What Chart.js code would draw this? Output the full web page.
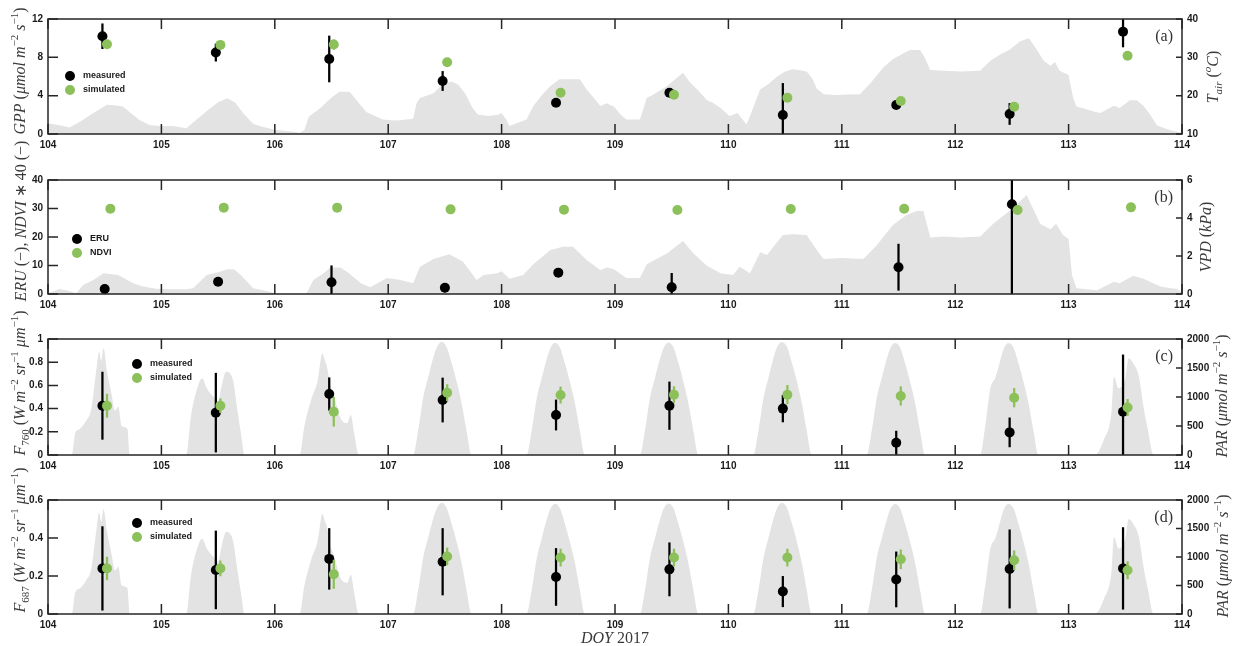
<!DOCTYPE html>
<html lang="en">
<head>
<meta charset="UTF-8">
<title>GPP, ERU, F760 and F687 - DOY 2017</title>
<script src="https://cdn.jsdelivr.net/npm/chart.js"></script>
<style>
  html, body { margin: 0; padding: 0; background: #fff; }
  .wrap { position: relative; width: 1240px; height: 646px; }
  .wrap canvas { position: absolute; left: 0; top: 0; }
</style>
</head>
<body>
<div class="wrap">
  <canvas id="panelA" width="1240" height="646"></canvas>
  <canvas id="panelB" width="1240" height="646"></canvas>
  <canvas id="panelC" width="1240" height="646"></canvas>
  <canvas id="panelD" width="1240" height="646"></canvas>
</div>
<script>
// ---- ticks ----
const dayTicks = [104, 105, 106, 107, 108, 109, 110, 111, 112, 113, 114];
const gppTicks = [0, 4, 8, 12];
const tairTicks = [10, 20, 30, 40];
const eruTicks = [0, 10, 20, 30, 40];
const vpdTicks = [0, 2, 4, 6];
const f760Ticks = [0, 0.2, 0.4, 0.6, 0.8, 1];
const f687Ticks = [0, 0.2, 0.4, 0.6];
const parTicks = [0, 500, 1000, 1500, 2000];

// ---- sampling days ----
const measDoy = [104.48, 105.48, 106.48, 107.48, 108.48, 109.48, 110.48, 111.48, 112.48, 113.48];
const simDoy = [104.52, 105.52, 106.52, 107.52, 108.52, 109.52, 110.52, 111.52, 112.52, 113.52];
const eruDoy = [104.5, 105.5, 106.5, 107.5, 108.5, 109.5, 110.5, 111.5, 112.5, 113.5];
const ndviDoy = [104.55, 105.55, 106.55, 107.55, 108.55, 109.55, 110.55, 111.55, 112.55, 113.55];

// ---- (a) GPP ----
const gppMeas = [10.2, 8.5, 7.83, 5.53, 3.27, 4.31, 1.98, 3.03, 2.09, 10.68];
const gppMeasErr = [1.3, 0.9, 2.4, 1.0, 0, 0.3, 3.3, 0, 1.1, 1.6];
const gppSim = [9.36, 9.3, 9.33, 7.48, 4.31, 4.1, 3.79, 3.44, 2.85, 8.17];
const gppSimErr = [0, 0, 0.5, 0, 0, 0, 0, 0, 0, 0];

// ---- (b) ERU and NDVI*40 ----
const eru = [1.75, 4.3, 4.1, 2.2, 7.5, 2.35, null, 9.4, 31.5, null];
const eruErr = [1.5, 0, 5.8, 1.5, 0, 4.9, 0, 8.1, 35, 0];
const ndvi40 = [29.9, 30.3, 30.3, 29.7, 29.6, 29.5, 29.8, 29.9, 29.5, 30.4];
const ndviErr = [0, 0, 0, 0, 0, 0, 0, 0, 0, 0];

// ---- (c) F760 ----
const f760Meas = [0.425, 0.365, 0.526, 0.474, 0.345, 0.425, 0.40, 0.106, 0.195, 0.373];
const f760MeasErr = [0.29, 0.34, 0.14, 0.19, 0.13, 0.205, 0.115, 0.1, 0.125, 0.49];
const f760Sim = [0.425, 0.425, 0.373, 0.537, 0.517, 0.52, 0.52, 0.509, 0.494, 0.41];
const f760SimErr = [0.1, 0.06, 0.125, 0.07, 0.07, 0.07, 0.08, 0.08, 0.08, 0.07];

// ---- (d) F687 ----
const f687Meas = [0.24, 0.232, 0.29, 0.275, 0.195, 0.235, 0.118, 0.182, 0.237, 0.24];
const f687MeasErr = [0.22, 0.205, 0.16, 0.175, 0.15, 0.14, 0.08, 0.145, 0.206, 0.215];
const f687Sim = [0.24, 0.24, 0.209, 0.303, 0.297, 0.297, 0.297, 0.288, 0.283, 0.23];
const f687SimErr = [0.06, 0.04, 0.075, 0.045, 0.045, 0.045, 0.045, 0.05, 0.05, 0.045];

// ---- background: air temperature (a) ----
const tairDoy = [104.00, 104.10, 104.19, 104.30, 104.40, 104.52, 104.62, 104.66, 104.73, 104.81, 104.90, 105.00, 105.10, 105.22,
  105.30, 105.40, 105.50, 105.58, 105.65, 105.72, 105.81, 105.90, 106.00, 106.10, 106.17, 106.22, 106.26, 106.30, 106.40,
  106.50, 106.57, 106.66, 106.73, 106.81, 106.90, 106.95, 107.05, 107.10, 107.22, 107.25, 107.28, 107.40, 107.48, 107.56,
  107.62, 107.68, 107.74, 107.79, 107.88, 107.97, 108.00, 108.04, 108.07, 108.15, 108.22, 108.28, 108.35, 108.43, 108.51,
  108.60, 108.69, 108.75, 108.81, 108.87, 108.93, 108.96, 108.99, 109.05, 109.10, 109.22, 109.28, 109.35, 109.46, 109.52,
  109.60, 109.66, 109.73, 109.81, 109.87, 109.93, 110.01, 110.08, 110.12, 110.16, 110.22, 110.28, 110.35, 110.43, 110.50,
  110.57, 110.63, 110.69, 110.74, 110.78, 110.84, 110.95, 111.05, 111.16, 111.25, 111.37, 111.45, 111.54, 111.60, 111.69,
  111.73, 111.78, 111.90, 112.05, 112.22, 112.31, 112.40, 112.48, 112.57, 112.65, 112.72, 112.78, 112.84, 112.88, 112.92,
  113.00, 113.04, 113.07, 113.15, 113.22, 113.28, 113.40, 113.45, 113.54, 113.60, 113.66, 113.72, 113.78, 113.90, 114.00];
const tairVal = [12.8, 12.3, 11.7, 13.5, 15.5, 17.6, 17.4, 17.2, 15.5, 13.6, 12.3, 12.1, 12.1, 11.5,
  13.5, 16.0, 18.3, 19.3, 18.2, 15.5, 12.6, 11.8, 11.1, 10.8, 10.6, 10.3, 11.0, 14.5, 16.7,
  19.5, 21.0, 21.0, 18.5, 15.7, 14.5, 13.8, 13.5, 13.6, 14.0, 18.0, 19.4, 20.6, 23.0, 23.7,
  22.8, 20.5, 17.0, 15.1, 14.7, 15.0, 15.5, 13.8, 12.1, 13.0, 13.8, 17.3, 20.0, 22.5, 24.3,
  24.3, 24.3, 21.6, 19.5, 17.3, 18.0, 17.5, 17.2, 15.0, 13.8, 13.8, 19.4, 20.5, 22.5, 24.0,
  26.0, 23.5, 21.5, 18.9, 18.0, 16.8, 14.7, 15.5, 14.0, 12.5, 17.0, 21.6, 23.0, 25.0, 26.3,
  26.9, 26.6, 26.3, 24.5, 21.8, 20.4, 20.2, 20.3, 20.4, 23.2, 27.5, 29.5, 31.0, 31.9, 31.9,
  30.0, 26.7, 26.5, 26.3, 26.5, 29.1, 30.8, 32.0, 34.1, 35.0, 32.0, 29.1, 27.8, 28.8, 26.5,
  25.4, 19.4, 17.2, 16.5, 15.9, 15.5, 17.4, 16.8, 18.8, 18.8, 17.4, 15.0, 12.2, 11.0, 10.3];

// ---- background: VPD (b) ----
const vpdDoy = [104.00, 104.05, 104.10, 104.16, 104.25, 104.31, 104.40, 104.49, 104.55, 104.62, 104.68, 104.75, 104.84, 104.95,
  105.10, 105.22, 105.28, 105.40, 105.50, 105.58, 105.64, 105.70, 105.81, 105.93, 106.00, 106.22, 106.28, 106.34, 106.43,
  106.49, 106.58, 106.64, 106.76, 106.84, 106.99, 107.11, 107.22, 107.28, 107.40, 107.54, 107.66, 107.78, 107.84, 107.96,
  108.00, 108.07, 108.19, 108.28, 108.43, 108.54, 108.63, 108.75, 108.87, 108.93, 108.99, 109.10, 109.22, 109.28, 109.46,
  109.60, 109.69, 109.81, 109.93, 110.04, 110.10, 110.19, 110.28, 110.34, 110.48, 110.57, 110.69, 110.78, 110.84, 111.00,
  111.19, 111.31, 111.45, 111.57, 111.66, 111.72, 111.78, 111.90, 112.05, 112.22, 112.34, 112.51, 112.63, 112.75, 112.84,
  112.89, 112.95, 113.00, 113.03, 113.07, 113.25, 113.40, 113.45, 113.57, 113.66, 113.81, 113.95, 114.00];
const vpdVal = [0.04, 0.15, 0.26, 0.20, 0.05, 0.47, 0.74, 1.09, 1.05, 1.00, 0.80, 0.56, 0.40, 0.28,
  0.25, 0.25, 0.30, 1.00, 1.15, 1.30, 1.30, 1.00, 0.30, 0.16, 0.04, 0.04, 0.04, 0.74, 1.09,
  1.39, 1.39, 1.16, 0.56, 0.35, 0.84, 0.74, 0.56, 1.44, 1.84, 2.09, 1.70, 0.74, 1.00, 1.09,
  1.20, 0.80, 1.00, 1.56, 2.32, 2.49, 2.49, 1.79, 1.26, 1.40, 1.30, 0.84, 0.84, 1.56, 2.14,
  2.79, 2.14, 1.49, 1.09, 1.00, 1.44, 1.09, 2.20, 2.05, 3.10, 3.15, 3.10, 2.30, 1.84, 1.90,
  1.84, 2.58, 3.63, 4.16, 4.37, 4.37, 2.97, 3.02, 2.97, 3.02, 3.72, 4.51, 5.21, 3.68, 3.41,
  3.70, 3.10, 2.90, 1.00, 0.30, 0.20, 0.65, 0.56, 0.96, 0.80, 0.39, 0.26, 0.10];

// ---- background: PAR (c, d) ----
const parDoy = [104.00, 104.21, 104.24, 104.28, 104.34, 104.38, 104.43, 104.45, 104.47, 104.49, 104.52, 104.56, 104.59, 104.62,
  104.65, 104.70, 104.72,
  105.22, 105.26, 105.32, 105.36, 105.40, 105.46, 105.50, 105.53, 105.57, 105.63, 105.67, 105.71, 105.73,
  106.22, 106.26, 106.32, 106.38, 106.42, 106.44, 106.46, 106.49, 106.52, 106.58, 106.64, 106.67, 106.70, 106.74,
  107.22, 107.265, 107.31, 107.354, 107.40, 107.43, 107.47, 107.515, 107.56, 107.60, 107.648, 107.69, 107.736,
  108.22, 108.265, 108.31, 108.354, 108.40, 108.43, 108.47, 108.515, 108.56, 108.60, 108.648, 108.69, 108.736,
  109.22, 109.265, 109.31, 109.354, 109.40, 109.43, 109.47, 109.515, 109.56, 109.60, 109.648, 109.69, 109.736,
  110.22, 110.265, 110.31, 110.354, 110.40, 110.43, 110.47, 110.515, 110.56, 110.60, 110.648, 110.69, 110.736,
  111.22, 111.265, 111.31, 111.354, 111.40, 111.43, 111.47, 111.515, 111.56, 111.60, 111.648, 111.69, 111.736,
  112.22, 112.265, 112.31, 112.354, 112.40, 112.43, 112.47, 112.515, 112.56, 112.60, 112.648, 112.69, 112.736,
  113.23, 113.31, 113.38, 113.40, 113.44, 113.50, 113.53, 113.57, 113.62, 113.66, 113.70, 113.75, 114.00];
const parVal = [0, 0, 374, 448, 603, 776, 1523, 1782, 1620, 1839, 1448, 1052, 764, 830,
  500, 450, 0,
  0, 661, 1178, 1322, 1150, 1000, 920, 1180, 1437, 1300, 776, 259, 0,
  0, 489, 948, 1293, 1753, 1640, 1523, 1200, 1035, 632, 550, 690, 374, 0,
  0, 430, 1006, 1350, 1695, 1860, 1953, 1860, 1580, 1293, 890, 430, 0,
  0, 420, 980, 1330, 1670, 1840, 1935, 1850, 1570, 1280, 880, 420, 0,
  0, 430, 1000, 1340, 1680, 1850, 1940, 1860, 1580, 1290, 880, 430, 0,
  0, 420, 990, 1340, 1690, 1860, 1950, 1870, 1590, 1300, 890, 430, 0,
  0, 430, 1000, 1340, 1680, 1850, 1930, 1850, 1570, 1280, 880, 420, 0,
  0, 500, 1150, 1330, 1650, 1840, 1930, 1850, 1570, 1280, 880, 420, 0,
  0, 259, 776, 1351, 1150, 1322, 1667, 1580, 1351, 833, 431, 0, 0];

const BLACK = '#000000';
const GREEN = '#8cc05a';
const GRAY = '#e3e3e3';
const FRAME = '#262626';
const TICK_FONT = { family: '"Liberation Sans", Arial, sans-serif', size: 10, weight: 'bold' };
const SERIF = '"Liberation Serif", "Times New Roman", serif';

function pts(xs, ys) {
  return xs.map((x, i) => ({ x: x, y: ys[i] }));
}
function errBars(xs, ys, es) {
  return xs.map((x, i) => (ys[i] == null || !es[i]) ? null : { x: x, y: [ys[i] - es[i], ys[i] + es[i]] })
    .filter(Boolean);
}
function setTicks(vals) {
  return s => { s.ticks = vals.map(v => ({ value: v })); };
}
const fmt = v => String(Math.round(v * 100) / 100);

// draws a math-like label; kinds: 'i' italic, '^' sup, '_' sub
function drawRich(ctx, segs, cx, cy, vertical) {
  const size = 16;
  const fontFor = k => (k.includes('i') ? 'italic ' : '') +
    ((k.includes('^') || k.includes('_')) ? 11 : size) + 'px ' + SERIF;
  let w = 0;
  const widths = segs.map(([t, k]) => {
    ctx.font = fontFor(k);
    const m = ctx.measureText(t).width;
    w += m;
    return m;
  });
  ctx.save();
  ctx.translate(cx, cy);
  if (vertical) ctx.rotate(-Math.PI / 2);
  ctx.fillStyle = '#3a3a3a';
  ctx.textAlign = 'left';
  ctx.textBaseline = 'alphabetic';
  let x = -w / 2;
  const base = size * 0.35;
  segs.forEach(([t, k], i) => {
    ctx.font = fontFor(k);
    const dy = k.includes('^') ? -size * 0.4 : k.includes('_') ? size * 0.25 : 0;
    ctx.fillText(t, x, base + dy);
    x += widths[i];
  });
  ctx.restore();
}

const deco = {
  id: 'deco',
  afterDraw(chart, args, o) {
    const ctx = chart.ctx;
    const ca = chart.chartArea;
    const sx = chart.scales.x, sy = chart.scales.y, sr = chart.scales.yR;
    ctx.save();
    ctx.strokeStyle = FRAME;
    ctx.lineWidth = 1.5;
    ctx.strokeRect(ca.left, ca.top, ca.width, ca.height);
    ctx.beginPath();
    sx.ticks.forEach(t => {
      const px = sx.getPixelForValue(t.value);
      ctx.moveTo(px, ca.bottom); ctx.lineTo(px, ca.bottom - 10);
      ctx.moveTo(px, ca.top); ctx.lineTo(px, ca.top + 10);
    });
    sy.ticks.forEach(t => {
      const py = sy.getPixelForValue(t.value);
      ctx.moveTo(ca.left, py); ctx.lineTo(ca.left + 10, py);
    });
    sr.ticks.forEach(t => {
      const py = sr.getPixelForValue(t.value);
      ctx.moveTo(ca.right, py); ctx.lineTo(ca.right - 6, py);
    });
    ctx.stroke();

    // legend
    const lg = o.legend;
    [[BLACK, lg.names[0]], [GREEN, lg.names[1]]].forEach(([c, name], i) => {
      const y = lg.y + i * 14;
      ctx.fillStyle = c;
      ctx.beginPath();
      ctx.arc(lg.x, y, 5, 0, Math.PI * 2);
      ctx.fill();
      ctx.fillStyle = '#1a1a1a';
      ctx.font = 'bold 9px "Liberation Sans", Arial, sans-serif';
      ctx.textAlign = 'left';
      ctx.textBaseline = 'middle';
      ctx.fillText(name, lg.x + 13, y);
    });

    // panel letter
    ctx.fillStyle = '#333';
    ctx.font = '16px ' + SERIF;
    ctx.textAlign = 'right';
    ctx.textBaseline = 'middle';
    ctx.fillText(o.label, ca.right - 9, ca.top + 18);
    ctx.restore();

    drawRich(ctx, o.leftTitle, o.leftAt[0], o.leftAt[1], true);
    drawRich(ctx, o.rightTitle, o.rightAt[0], o.rightAt[1], true);
    if (o.xTitle) drawRich(ctx, o.xTitle, o.xAt[0], o.xAt[1], false);
  }
};

function makePanel(p) {
  const datasets = [
    { type: 'line', data: pts(p.envX, p.envY), yAxisID: 'yR', fill: 'start', backgroundColor: GRAY,
      borderWidth: 0, pointRadius: 0, order: 10, cubicInterpolationMode: p.smooth ? 'monotone' : 'default' },
    { type: 'bar', data: errBars(p.measX, p.meas, p.measErr), yAxisID: 'y', backgroundColor: BLACK,
      barThickness: 1.6, grouped: false, borderWidth: 0, order: 6 },
    { type: 'scatter', data: pts(p.measX, p.meas), yAxisID: 'y', pointRadius: 5, pointBorderWidth: 0,
      pointBackgroundColor: BLACK, order: 5 },
    { type: 'bar', data: errBars(p.simX, p.sim, p.simErr), yAxisID: 'y', backgroundColor: GREEN,
      barThickness: 1.6, grouped: false, borderWidth: 0, order: 4 },
    { type: 'scatter', data: pts(p.simX, p.sim), yAxisID: 'y', pointRadius: 5, pointBorderWidth: 0,
      pointBackgroundColor: GREEN, order: 3 }
  ];
  const noGrid = { display: false, drawTicks: false, offset: false };
  new Chart(document.getElementById(p.id), {
    type: 'line',
    data: { datasets: datasets },
    plugins: [deco],
    options: {
      responsive: false,
      animation: false,
      events: [],
      layout: { padding: { left: 0, right: 0, top: p.top, bottom: 646 - p.bottom - 22 } },
      scales: {
        x: {
          type: 'linear', min: dayTicks[0], max: dayTicks[dayTicks.length - 1], offset: false,
          afterBuildTicks: setTicks(dayTicks),
          afterFit: s => { s.height = 22; },
          grid: noGrid, border: { display: false },
          ticks: { font: TICK_FONT, color: '#1a1a1a', padding: 5, maxRotation: 0, autoSkip: false, callback: fmt }
        },
        y: {
          position: 'left', min: p.leftTicks[0], max: p.leftTicks[p.leftTicks.length - 1],
          afterBuildTicks: setTicks(p.leftTicks),
          afterFit: s => { s.width = 48; },
          grid: noGrid, border: { display: false },
          ticks: { font: TICK_FONT, color: '#1a1a1a', padding: 5, callback: fmt }
        },
        yR: {
          position: 'right', min: p.rightTicks[0], max: p.rightTicks[p.rightTicks.length - 1],
          afterBuildTicks: setTicks(p.rightTicks),
          afterFit: s => { s.width = 58; },
          grid: noGrid, border: { display: false },
          ticks: { font: TICK_FONT, color: '#1a1a1a', padding: 5, callback: fmt }
        }
      },
      plugins: {
        legend: { display: false },
        tooltip: { enabled: false },
        deco: p.deco
      }
    }
  });
}

const unitPar = [['PAR', 'i'], [' (', ''], ['\u03bcmol m', 'i'], ['\u22122', '^'], [' s', 'i'], ['\u22121', '^'], [')', '']];

makePanel({
  id: 'panelA', top: 19, bottom: 134,
  envX: tairDoy, envY: tairVal, rightTicks: tairTicks, leftTicks: gppTicks,
  measX: measDoy, meas: gppMeas, measErr: gppMeasErr,
  simX: simDoy, sim: gppSim, simErr: gppSimErr,
  deco: {
    label: '(a)', legend: { x: 70, y: 76, names: ['measured', 'simulated'] },
    leftTitle: [['GPP', 'i'], [' (', ''], ['\u03bcmol m', 'i'], ['\u22122', '^'], [' s', 'i'], ['\u22121', '^'], [')', '']],
    leftAt: [19, 71],
    rightTitle: [['T', 'i'], ['air', '_i'], [' (', ''], ['o', '^i'], ['C', 'i'], [')', '']],
    rightAt: [1212, 77]
  }
});

makePanel({
  id: 'panelB', top: 180, bottom: 294,
  envX: vpdDoy, envY: vpdVal, rightTicks: vpdTicks, leftTicks: eruTicks,
  measX: eruDoy, meas: eru, measErr: eruErr,
  simX: ndviDoy, sim: ndvi40, simErr: ndviErr,
  deco: {
    label: '(b)', legend: { x: 77, y: 239, names: ['ERU', 'NDVI'] },
    leftTitle: [['ERU', 'i'], [' (\u2212), ', ''], ['NDVI', 'i'], [' \u2217 40 (\u2212)', '']],
    leftAt: [20, 221],
    rightTitle: [['VPD', 'i'], [' (', ''], ['kPa', 'i'], [')', '']],
    rightAt: [1205, 237]
  }
});

makePanel({
  id: 'panelC', top: 339, bottom: 455, smooth: true,
  envX: parDoy, envY: parVal, rightTicks: parTicks, leftTicks: f760Ticks,
  measX: measDoy, meas: f760Meas, measErr: f760MeasErr,
  simX: simDoy, sim: f760Sim, simErr: f760SimErr,
  deco: {
    label: '(c)', legend: { x: 137, y: 364, names: ['measured', 'simulated'] },
    leftTitle: [['F', 'i'], ['760', '_'], [' (', ''], ['W m', 'i'], ['\u22122', '^'], [' sr', 'i'], ['\u22121', '^'],
      [' \u03bcm', 'i'], ['\u22121', '^'], [')', '']],
    leftAt: [19, 383],
    rightTitle: unitPar,
    rightAt: [1221, 396]
  }
});

makePanel({
  id: 'panelD', top: 500, bottom: 614, smooth: true,
  envX: parDoy, envY: parVal, rightTicks: parTicks, leftTicks: f687Ticks,
  measX: measDoy, meas: f687Meas, measErr: f687MeasErr,
  simX: simDoy, sim: f687Sim, simErr: f687SimErr,
  deco: {
    label: '(d)', legend: { x: 137, y: 523, names: ['measured', 'simulated'] },
    leftTitle: [['F', 'i'], ['687', '_'], [' (', ''], ['W m', 'i'], ['\u22122', '^'], [' sr', 'i'], ['\u22121', '^'],
      [' \u03bcm', 'i'], ['\u22121', '^'], [')', '']],
    leftAt: [19, 540],
    rightTitle: unitPar,
    rightAt: [1222, 556],
    xTitle: [['DOY', 'i'], [' 2017', '']],
    xAt: [615, 637]
  }
});
</script>
</body>
</html>
